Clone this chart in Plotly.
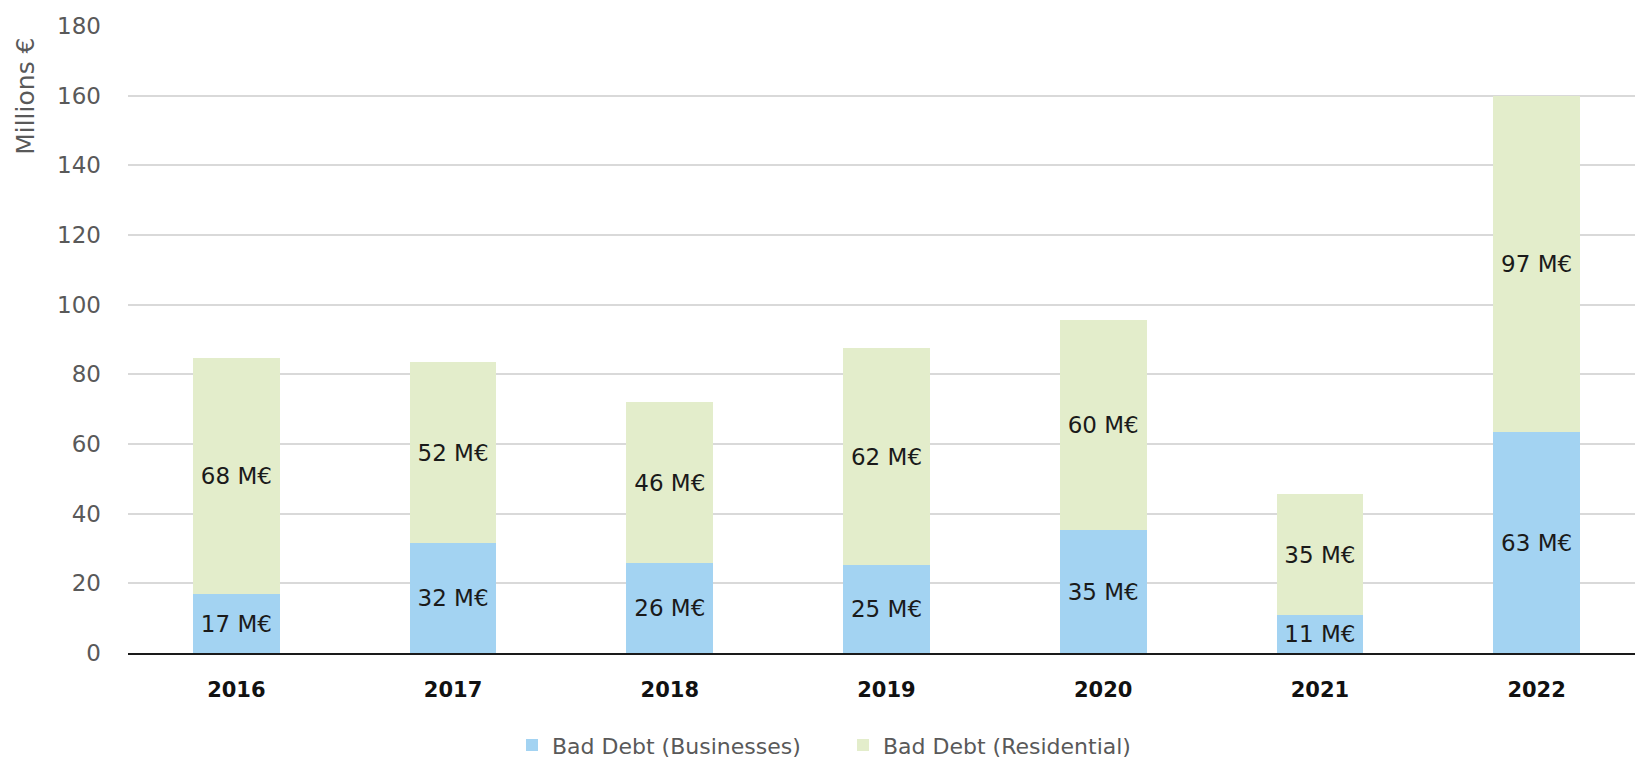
import plotly.graph_objects as go

# Bad debt by year, millions of euros
years = ["2016", "2017", "2018", "2019", "2020", "2021", "2022"]
businesses = [16.8, 31.6, 25.7, 25.2, 35.3, 10.8, 63.4]
residential = [67.9, 51.9, 46.4, 62.4, 60.4, 34.9, 96.6]
y_ticks = [0, 20, 40, 60, 80, 100, 120, 140, 160, 180]

BLUE = "#a3d3f2"
GREEN = "#e3edcb"
FONT = "DejaVu Sans"
LABEL_SIZE = 23


def labels(values):
    return [f"{round(v)} M€" for v in values]


fig = go.Figure()
fig.add_trace(go.Bar(
    x=years, y=businesses, name="Bad Debt (Businesses)",
    marker=dict(color=BLUE, line=dict(width=0)),
    text=labels(businesses), textposition="inside", insidetextanchor="middle",
    textangle=0, textfont=dict(family=FONT, size=LABEL_SIZE, color="#1a1a1a"),
))
fig.add_trace(go.Bar(
    x=years, y=residential, name="Bad Debt (Residential)",
    marker=dict(color=GREEN, line=dict(width=0)),
    text=labels(residential), textposition="inside", insidetextanchor="middle",
    textangle=0, textfont=dict(family=FONT, size=LABEL_SIZE, color="#1a1a1a"),
))

fig.update_layout(
    width=1635, height=758,
    barmode="stack", bargap=0.6,
    plot_bgcolor="white", paper_bgcolor="white",
    margin=dict(l=128, r=0, t=26, b=105, pad=0, autoexpand=False),
    font=dict(family=FONT, color="#595959"),
    uniformtext=dict(minsize=LABEL_SIZE, mode="show"),
    showlegend=True,
    legend=dict(
        orientation="h", x=(512 - 128) / 1507, xanchor="left",
        y=-0.147, yanchor="middle",
        entrywidth=286, entrywidthmode="pixels",
        font=dict(family=FONT, size=22, color="#595959"),
        traceorder="normal", itemclick=False, itemdoubleclick=False,
    ),
    annotations=[dict(
        text="Millions €", textangle=-90, showarrow=False,
        xref="paper", yref="paper", x=-102 / 1507, y=0.887,
        xanchor="center", yanchor="middle",
        font=dict(family=FONT, size=25, color="#595959"),
    )],
)

fig.update_xaxes(
    showgrid=False, showline=True, linecolor="#1a1a1a", linewidth=2,
    tickfont=dict(family=FONT, size=21, color="#111111", weight="bold"),
    ticklabelstandoff=17, range=[-0.5, 6.454],
)
fig.update_yaxes(
    range=[0, 180], tickvals=y_ticks, showgrid=True, gridcolor="#d9d9d9",
    gridwidth=1.5, zeroline=False, showline=False,
    tickfont=dict(family=FONT, size=23, color="#595959"),
    ticklabelstandoff=26,
)

fig.write_html("out.html")
